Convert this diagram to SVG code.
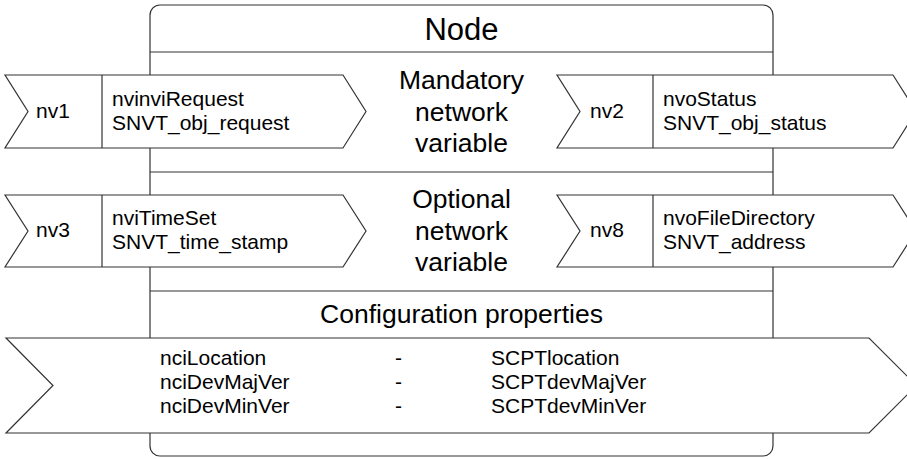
<svg xmlns="http://www.w3.org/2000/svg" width="907" height="459" viewBox="0 0 907 459">
<style>
.ln{fill:none;stroke:#333;stroke-width:1.2}
.ar{fill:#fff;stroke:#333;stroke-width:1.2;stroke-linejoin:miter}
.t{font-family:"Liberation Sans",Arial,sans-serif;fill:#000}
.s{font-size:21px}
.m{font-size:26.5px;text-anchor:middle}
.h{font-size:31px;text-anchor:middle}
</style>
<rect width="907" height="459" fill="#fff"/>
<g id="node">
<rect class="ln" x="150" y="5" width="623" height="451" rx="10" ry="10"/>
<text class="t h" x="461.5" y="40">Node</text>
</g>
<g id="sections">
<line class="ln" x1="150" y1="52" x2="773" y2="52"/>
<line class="ln" x1="150" y1="172" x2="773" y2="172"/>
<line class="ln" x1="150" y1="291" x2="773" y2="291"/>
<text class="t m" x="461.5" y="89">Mandatory</text>
<text class="t m" x="461.5" y="120.5">network</text>
<text class="t m" x="461.5" y="152">variable</text>
<text class="t m" x="461.5" y="208">Optional</text>
<text class="t m" x="461.5" y="239.5">network</text>
<text class="t m" x="461.5" y="271">variable</text>
<text class="t m" x="461.5" y="323">Configuration properties</text>
</g>
<g id="connectors"></g>
<g id="nv1">
<path class="ar" d="M5,75 L343,75 L366,111.5 L343,148 L5,148 L28,111.5 Z"/>
<line class="ln" x1="102" y1="75" x2="102" y2="148"/>
<text class="t s" x="36" y="118">nv1</text>
<text class="t s" x="112" y="106">nvinviRequest</text>
<text class="t s" x="112" y="130">SNVT_obj_request</text>
</g>
<g id="nv2">
<path class="ar" d="M557,75 L893,75 L916,111.5 L893,148 L557,148 L580,111.5 Z"/>
<line class="ln" x1="653" y1="75" x2="653" y2="148"/>
<text class="t s" x="590" y="118">nv2</text>
<text class="t s" x="663" y="106">nvoStatus</text>
<text class="t s" x="663" y="130">SNVT_obj_status</text>
</g>
<g id="nv3">
<path class="ar" d="M5,195 L343,195 L366,231 L343,267 L5,267 L28,231 Z"/>
<line class="ln" x1="102" y1="195" x2="102" y2="267"/>
<text class="t s" x="36" y="237">nv3</text>
<text class="t s" x="112" y="225">nviTimeSet</text>
<text class="t s" x="112" y="249">SNVT_time_stamp</text>
</g>
<g id="nv8">
<path class="ar" d="M557,195 L893,195 L916,231 L893,267 L557,267 L580,231 Z"/>
<line class="ln" x1="653" y1="195" x2="653" y2="267"/>
<text class="t s" x="590" y="237">nv8</text>
<text class="t s" x="663" y="225">nvoFileDirectory</text>
<text class="t s" x="663" y="249">SNVT_address</text>
</g>
<g id="config">
<path class="ar" d="M6,338 L869,338 L916.5,385.5 L869,433 L6,433 L53,385.5 Z"/>
<text class="t s" x="160" y="365">nciLocation</text>
<text class="t s" x="160" y="389">nciDevMajVer</text>
<text class="t s" x="160" y="413">nciDevMinVer</text>
<text class="t s" x="395" y="365">-</text>
<text class="t s" x="395" y="389">-</text>
<text class="t s" x="395" y="413">-</text>
<text class="t s" x="491" y="365">SCPTlocation</text>
<text class="t s" x="491" y="389">SCPTdevMajVer</text>
<text class="t s" x="491" y="413">SCPTdevMinVer</text>
</g>
</svg>
